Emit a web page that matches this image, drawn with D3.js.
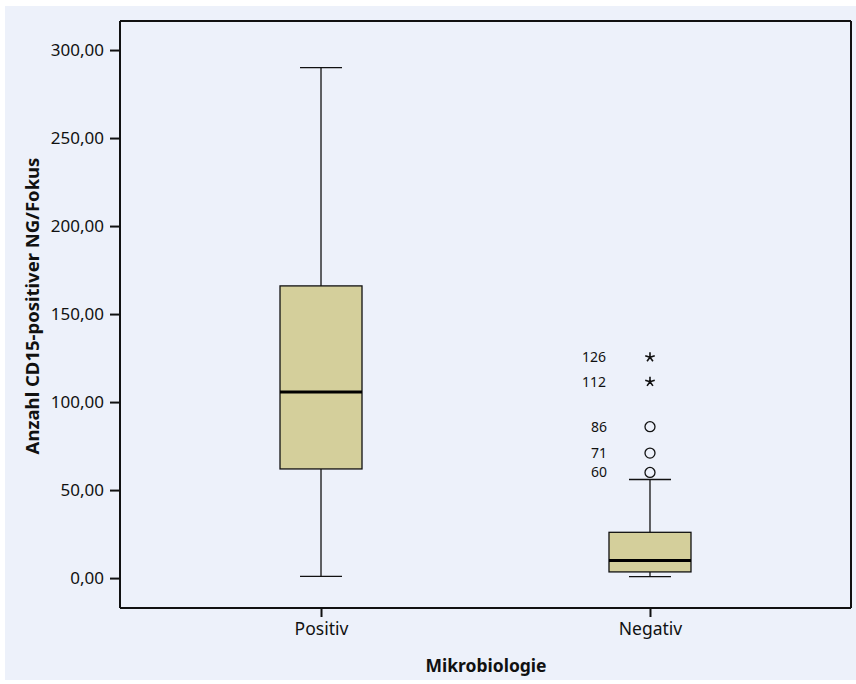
<!DOCTYPE html>
<html><head><meta charset="utf-8">
<script src="https://cdn.jsdelivr.net/npm/d3@7"></script>
<style>
html,body{margin:0;padding:0;background:#fff;}
svg{display:block;font-family:"Noto Sans",sans-serif;}
</style></head>
<body>
<svg id="chart" width="856" height="684"></svg>
<script>
const categories = ["Positiv", "Negativ"];
const whiskerLow = [1, 0.8];
const q1 = [62, 3.5];
const median = [105.7, 10];
const q3 = [166, 26];
const whiskerHigh = [290, 56];
const outlierValues = [60, 71, 86];
const outlierLabels = ["60", "71", "86"];
const extremeValues = [111.5, 125.5];
const extremeLabels = ["112", "126"];
const outlierCategory = "Negativ";
const yTicks = [0, 50, 100, 150, 200, 250, 300];
const yTitle = "Anzahl CD15-positiver NG/Fokus";
const xTitle = "Mikrobiologie";

(function(){
const svg = d3.select("#chart");
const mL = 120, mR = 851, mT = 21, mB = 608;

svg.append("rect").attr("x", 5).attr("y", 6).attr("width", 851).attr("height", 674).attr("fill", "#edf1fa");

const y = d3.scaleLinear().domain([-17, 316.5]).range([mB, mT]);
const x = d3.scalePoint().domain(categories).range([mL, mR]).padding(0.611);

const boxW = 82, capW = 42;

svg.append("line").attr("x1", mL).attr("x2", mR).attr("y1", mT).attr("y2", mT).attr("stroke", "#111").attr("stroke-width", 2);
svg.append("line").attr("x1", mR).attr("x2", mR).attr("y1", mT).attr("y2", mB).attr("stroke", "#111").attr("stroke-width", 2);

const yAxis = svg.append("g").attr("transform", `translate(${mL},0)`)
  .call(d3.axisLeft(y).tickValues(yTicks).tickSize(10).tickPadding(6)
    .tickFormat(d => d3.format(".2f")(d).replace(".", ",")));
yAxis.select(".domain").attr("stroke", "#111").attr("stroke-width", 2).attr("d", `M0,${mT}V${mB}`);
yAxis.selectAll(".tick line").attr("stroke", "#111").attr("stroke-width", 2);
yAxis.selectAll(".tick text").attr("font-size", 17).attr("fill", "#111").attr("font-family", "Noto Sans");

const xAxis = svg.append("g").attr("transform", `translate(0,${mB})`)
  .call(d3.axisBottom(x).tickSize(9).tickPadding(6));
xAxis.select(".domain").attr("stroke", "#111").attr("stroke-width", 2).attr("d", `M${mL},0H${mR}`);
xAxis.selectAll(".tick line").attr("stroke", "#111").attr("stroke-width", 2);
xAxis.selectAll(".tick text").attr("font-size", 17.5).attr("fill", "#111").attr("font-family", "Noto Sans");

const data = categories.map((c, i) => ({c, lo: whiskerLow[i], q1: q1[i], med: median[i], q3: q3[i], hi: whiskerHigh[i]}));
const g = svg.append("g");
data.forEach(d => {
  const cx = x(d.c);
  g.append("line").attr("x1", cx).attr("x2", cx).attr("y1", y(d.hi)).attr("y2", y(d.q3)).attr("stroke", "#111").attr("stroke-width", 1.3);
  g.append("line").attr("x1", cx).attr("x2", cx).attr("y1", y(d.q1)).attr("y2", y(d.lo)).attr("stroke", "#111").attr("stroke-width", 1.3);
  g.append("line").attr("x1", cx - capW/2).attr("x2", cx + capW/2).attr("y1", y(d.hi)).attr("y2", y(d.hi)).attr("stroke", "#111").attr("stroke-width", 1.3);
  g.append("line").attr("x1", cx - capW/2).attr("x2", cx + capW/2).attr("y1", y(d.lo)).attr("y2", y(d.lo)).attr("stroke", "#111").attr("stroke-width", 1.3);
  g.append("rect").attr("x", cx - boxW/2).attr("width", boxW).attr("y", y(d.q3)).attr("height", y(d.q1) - y(d.q3))
    .attr("fill", "#d4cf9b").attr("stroke", "#111").attr("stroke-width", 1.3);
  g.append("line").attr("x1", cx - boxW/2).attr("x2", cx + boxW/2).attr("y1", y(d.med)).attr("y2", y(d.med)).attr("stroke", "#000").attr("stroke-width", 3);
});

const ox = x(outlierCategory);
outlierValues.forEach((v, i) => {
  g.append("circle").attr("cx", ox).attr("cy", y(v)).attr("r", 5).attr("fill", "none").attr("stroke", "#111").attr("stroke-width", 1.3);
  g.append("text").attr("x", ox - 43).attr("y", y(v)).attr("dy", "0.35em").attr("text-anchor", "end")
    .attr("font-size", 14).attr("fill", "#111").text(outlierLabels[i]);
});
extremeValues.forEach((v, i) => {
  const cy = y(v), r = 5;
  let p = "";
  for (let k = 0; k < 5; k++) {
    const a = -Math.PI/2 + k * 2*Math.PI/5;
    p += `M${ox},${cy}L${ox + r*Math.cos(a)},${cy + r*Math.sin(a)}`;
  }
  g.append("path").attr("d", p).attr("stroke", "#111").attr("stroke-width", 1.6).attr("fill", "none");
  g.append("text").attr("x", ox - 44).attr("y", cy).attr("dy", "0.35em").attr("text-anchor", "end")
    .attr("font-size", 14).attr("fill", "#111").text(extremeLabels[i]);
});

svg.append("text").attr("transform", `translate(39,306) rotate(-90)`).attr("text-anchor", "middle")
  .attr("font-size", 18.5).attr("font-weight", "bold").attr("fill", "#111").text(yTitle);
svg.append("text").attr("x", 486).attr("y", 672).attr("text-anchor", "middle")
  .attr("font-size", 17.5).attr("font-weight", "bold").attr("fill", "#111").text(xTitle);
})();
</script>
</body></html>
